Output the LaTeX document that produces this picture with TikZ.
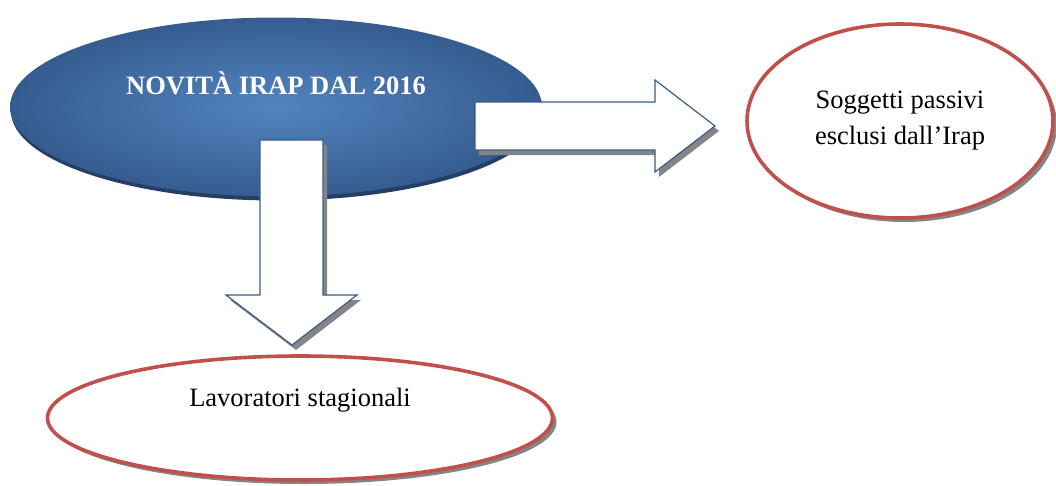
\documentclass[tikz,border=0pt]{standalone}
\usepackage{fontspec}
\setmainfont{Liberation Serif}
\usetikzlibrary{shapes.geometric, shadows}

\definecolor{novlight}{RGB}{82,132,192}
\definecolor{novdark}{RGB}{54,92,143}
\definecolor{novshadow}{RGB}{36,62,100}
\definecolor{itemred}{RGB}{192,80,77}
\definecolor{arrowblue}{RGB}{56,93,138}

\begin{document}
\begin{tikzpicture}[x=1pt, y=-1pt,
    topic/.style={ellipse, draw=none, inner color=novlight, outer color=novdark,
        text=white, font=\fontsize{26.5}{30}\selectfont\bfseries,
        drop shadow={shadow xshift=1pt, shadow yshift=-4pt, fill=novshadow, opacity=1}},
    item/.style={ellipse, draw=itemred, line width=3.6pt, fill=white, align=center,
        font=\fontsize{26.5}{36}\selectfont,
        drop shadow={shadow xshift=4pt, shadow yshift=-4pt, fill=black!48, opacity=1}},
    blockarrow/.style={draw=arrowblue, line width=1.2pt, fill=white, line join=miter,
        drop shadow={shadow xshift=4pt, shadow yshift=-5pt, fill=black!48, opacity=1}},
]
    \useasboundingbox (0,0) rectangle (1056,485);

    % Nodes
    \node[topic, minimum width=532pt, minimum height=179pt, text height=20pt, text depth=46pt]
        (nov) at (276,107) {NOVITÀ IRAP DAL 2016};
    \node[item, minimum width=306pt, minimum height=194pt]
        (sog) at (900,121) {Soggetti passivi\\esclusi dall’Irap};
    \node[item, minimum width=505pt, minimum height=124pt, text height=20pt, text depth=44pt]
        (lav) at (300,418) {Lavoratori stagionali};
    \coordinate (downtip) at (292,345);
    \coordinate (righttip) at (715,126);

    % Arrows
    \draw[blockarrow] (260,140) -- (323,140) -- (323,295) -- (357,295)
        -- (downtip) -- (226,295) -- (260,295) -- cycle;
    \draw[blockarrow] (475,102) -- (655,102) -- (655,80)
        -- (righttip) -- (655,172) -- (655,150) -- (475,150) -- cycle;
\end{tikzpicture}
\end{document}
